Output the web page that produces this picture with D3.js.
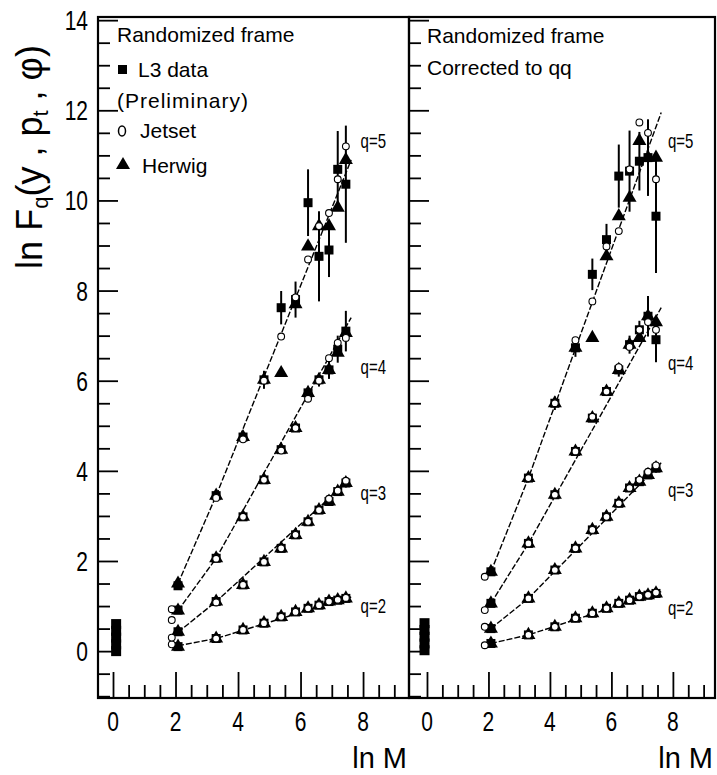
<!DOCTYPE html>
<html>
<head>
<meta charset="utf-8">
<script src="https://cdn.jsdelivr.net/npm/d3@7"></script>
<style>
  body { margin: 0; background: #fff; }
  svg text { font-family: "Liberation Sans", Arial, sans-serif; fill: #000; }
</style>
</head>
<body>
<svg id="chart" width="717" height="775"></svg>
<script>
// ln M bins, same for every q
const lnM = [2.08, 3.30, 4.16, 4.83, 5.38, 5.84, 6.24, 6.59, 6.91, 7.19, 7.45];
const jetsetLnM = [1.88, 3.30, 4.16, 4.83, 5.38, 5.84, 6.24, 6.59, 6.91, 7.19, 7.45];
const qOrders = [2, 3, 4, 5];
const xTicks = [0, 2, 4, 6, 8];
const yTicks = [0, 2, 4, 6, 8, 10, 12, 14];
const fitLnM = [2.08, 3.30, 7.62];

// left panel: randomized frame (rows q=2..5)
const leftData = [
  [0.10, 0.28, 0.47, 0.62, 0.76, 0.87, 0.95, 1.02, 1.10, 1.13, 1.17],
  [0.43, 1.10, 1.47, 1.98, 2.28, 2.58, 2.87, 3.13, 3.32, 3.54, 3.73],
  [0.91, 2.06, 2.98, 3.80, 4.47, 4.95, 5.73, 6.02, 6.24, 6.70, 7.10],
  [1.45, 3.45, 4.75, 6.02, 7.62, 7.80, 9.95, 8.76, 8.90, 10.69, 10.36]
];
const leftErr = [
  [0, 0, 0, 0, 0, 0, 0, 0, 0, 0, 0],
  [0, 0, 0, 0, 0, 0, 0, 0.05, 0.05, 0.08, 0.1],
  [0, 0, 0, 0, 0.05, 0.08, 0.12, 0.15, 0.2, 0.3, 0.45],
  [0.05, 0.1, 0.12, 0.2, 0.37, 0.4, 0.74, 1.0, 0.6, 0.85, 1.3]
];
const leftJetset = [
  [0.15, 0.28, 0.47, 0.62, 0.76, 0.87, 0.95, 1.02, 1.10, 1.14, 1.18],
  [0.30, 1.08, 1.47, 1.98, 2.28, 2.58, 2.87, 3.13, 3.38, 3.56, 3.78],
  [0.69, 2.05, 2.98, 3.80, 4.45, 4.95, 5.60, 6.00, 6.50, 6.84, 6.95],
  [0.93, 3.40, 4.70, 6.00, 6.98, 7.85, 8.69, 9.43, 9.72, 10.47, 11.20]
];
const leftHerwig = [
  [0.10, 0.28, 0.47, 0.62, 0.76, 0.87, 0.95, 1.02, 1.10, 1.13, 1.17],
  [0.43, 1.10, 1.47, 1.98, 2.28, 2.58, 2.87, 3.13, 3.32, 3.54, 3.73],
  [0.90, 2.06, 2.98, 3.80, 4.47, 4.95, 5.73, 6.02, 6.24, 6.62, 7.06],
  [1.50, 3.45, 4.75, 6.02, 6.17, 7.70, 8.98, 9.43, 9.43, 9.84, 10.90]
];
const leftFit = [
  [0.12, 0.28, 1.20],
  [0.42, 1.10, 3.84],
  [0.90, 2.06, 7.40],
  [1.50, 3.45, 10.90]
];
const leftZero = [0.0, 0.15, 0.3, 0.45, 0.6];

// right panel: randomized frame, corrected to qq
const rightData = [
  [0.17, 0.36, 0.54, 0.73, 0.84, 0.95, 1.06, 1.13, 1.21, 1.24, 1.28],
  [0.50, 1.17, 1.80, 2.28, 2.69, 2.98, 3.28, 3.62, 3.76, 3.91, 4.06],
  [1.06, 2.39, 3.47, 4.43, 5.17, 5.76, 6.24, 6.80, 7.13, 7.43, 6.91],
  [1.76, 3.84, 5.50, 6.73, 8.36, 9.13, 10.54, 10.65, 10.87, 10.95, 9.65]
];
const rightErr = [
  [0, 0, 0, 0, 0, 0, 0, 0, 0, 0, 0],
  [0, 0, 0, 0, 0, 0, 0, 0.05, 0.05, 0.08, 0.1],
  [0, 0, 0, 0, 0.05, 0.1, 0.15, 0.2, 0.2, 0.45, 0.5],
  [0.05, 0.1, 0.15, 0.2, 0.35, 0.35, 0.7, 0.9, 0.65, 0.85, 1.26]
];
const rightJetset = [
  [0.13, 0.36, 0.54, 0.73, 0.84, 0.95, 1.06, 1.13, 1.21, 1.25, 1.30],
  [0.54, 1.17, 1.80, 2.28, 2.69, 2.98, 3.28, 3.62, 3.80, 3.98, 4.12],
  [0.91, 2.39, 3.47, 4.43, 5.20, 5.76, 6.30, 6.75, 7.13, 7.30, 7.13],
  [1.65, 3.84, 5.50, 6.90, 7.76, 8.98, 9.32, 10.69, 11.73, 11.50, 10.47]
];
const rightHerwig = [
  [0.17, 0.36, 0.54, 0.73, 0.84, 0.95, 1.06, 1.13, 1.21, 1.24, 1.28],
  [0.50, 1.17, 1.80, 2.28, 2.69, 2.98, 3.28, 3.62, 3.76, 3.91, 4.06],
  [1.06, 2.39, 3.47, 4.43, 5.17, 5.76, 6.24, 6.80, 6.95, 7.43, 7.30],
  [1.76, 3.84, 5.50, 6.73, 6.95, 8.76, 9.65, 10.06, 11.32, 10.95, 10.95]
];
const rightFit = [
  [0.17, 0.36, 1.32],
  [0.50, 1.17, 4.18],
  [1.06, 2.39, 7.62],
  [1.76, 3.84, 11.95]
];
const rightZero = [0.02, 0.17, 0.32, 0.47, 0.62];

const svg = d3.select("#chart");
const y = d3.scaleLinear().domain([-1.04, 14.07]).range([698, 17]);

const panels = [
  {
    x: d3.scaleLinear().domain([-0.48, 9.47]).range([98, 409]),
    data: leftData, err: leftErr, jet: leftJetset, her: leftHerwig, fit: leftFit,
    zero: leftZero, zeroX: 0.1, labelX: 7.92, labelY: [0.98, 3.49, 6.29, 11.3],
    yLabels: true
  },
  {
    x: d3.scaleLinear().domain([-0.585, 9.37]).range([409, 715]),
    data: rightData, err: rightErr, jet: rightJetset, her: rightHerwig, fit: rightFit,
    zero: rightZero, zeroX: -0.08, labelX: 7.84, labelY: [0.93, 3.56, 6.36, 11.3],
    yLabels: false
  }
];

const tri = d3.symbol().type(d3.symbolTriangle).size(85);

panels.forEach(p => {
  const x = p.x;
  const g = svg.append("g");
  const [x0, x1] = x.range();

  // ticks
  const yMinor = d3.range(-1, 14.01, 0.5).filter(v => v % 2 !== 0);
  g.append("g").attr("transform", `translate(${x0},0)`)
    .call(d3.axisLeft(y).tickValues(yTicks).tickSize(-20).tickFormat(""));
  g.append("g").attr("transform", `translate(${x0},0)`)
    .call(d3.axisLeft(y).tickValues(yMinor).tickSize(-12).tickFormat(""));
  const xMinor = d3.range(0, 9.51, 0.5).filter(v => v % 2 !== 0 && x(v) < x1 - 2);
  g.append("g").attr("transform", `translate(0,${y.range()[0]})`)
    .call(d3.axisBottom(x).tickValues(xTicks).tickSize(-26).tickFormat(""));
  g.append("g").attr("transform", `translate(0,${y.range()[0]})`)
    .call(d3.axisBottom(x).tickValues(xMinor).tickSize(-13).tickFormat(""));
  g.selectAll(".domain").remove();
  g.selectAll(".tick line").attr("stroke", "#000").attr("stroke-width", 1.8);

  // frame
  g.append("rect")
    .attr("x", x0).attr("y", y.range()[1])
    .attr("width", x1 - x0).attr("height", y.range()[0] - y.range()[1])
    .attr("fill", "none").attr("stroke", "#000").attr("stroke-width", 2.2);

  // tick labels
  xTicks.forEach(t => {
    g.append("text").text(t)
      .attr("transform", `translate(${x(t)},731) scale(0.75,1)`)
      .attr("text-anchor", "middle").attr("font-size", 28);
  });
  if (p.yLabels) {
    yTicks.forEach(t => {
      g.append("text").text(t)
        .attr("transform", `translate(88,${y(t) + 10}) scale(0.75,1)`)
        .attr("text-anchor", "end").attr("font-size", 28);
    });
  }
  g.append("text").text("ln M")
    .attr("x", x1 - 2).attr("y", 768)
    .attr("text-anchor", "end").attr("font-size", 29);

  // fit lines
  const line = d3.line().x((d, i) => x(fitLnM[i])).y(d => y(d));
  p.fit.forEach(f => {
    g.append("path").attr("d", line(f))
      .attr("fill", "none").attr("stroke", "#000")
      .attr("stroke-width", 1.4).attr("stroke-dasharray", "6,2");
  });

  qOrders.forEach((q, qi) => {
    // error bars
    p.data[qi].forEach((v, i) => {
      const e = p.err[qi][i];
      if (e > 0) {
        g.append("line")
          .attr("x1", x(lnM[i])).attr("x2", x(lnM[i]))
          .attr("y1", y(v - e)).attr("y2", y(v + e))
          .attr("stroke", "#000").attr("stroke-width", 2);
      }
    });
    // Herwig
    g.selectAll(null).data(p.her[qi]).enter().append("path")
      .attr("d", tri)
      .attr("transform", (d, i) => `translate(${x(lnM[i])},${y(d)})`)
      .attr("fill", "#000");
    // L3 data
    g.selectAll(null).data(p.data[qi]).enter().append("rect")
      .attr("x", (d, i) => x(lnM[i]) - 4.5).attr("y", d => y(d) - 4.5)
      .attr("width", 9).attr("height", 9).attr("fill", "#000");
    // Jetset
    g.selectAll(null).data(p.jet[qi]).enter().append("circle")
      .attr("cx", (d, i) => x(jetsetLnM[i])).attr("cy", d => y(d))
      .attr("r", 3.4).attr("fill", "#fff").attr("stroke", "#000").attr("stroke-width", 1.1);

    // q label
    g.append("text").text("q=" + q)
      .attr("transform", `translate(${x(p.labelX)},${y(p.labelY[qi]) + 6}) scale(0.75,1)`)
      .attr("font-size", 20);
  });

  // ln M = 0 bin
  g.selectAll(null).data(p.zero).enter().append("rect")
    .attr("x", x(p.zeroX) - 5).attr("y", d => y(d) - 5)
    .attr("width", 10).attr("height", 10).attr("fill", "#000");
});

// legends
svg.append("text").text("Randomized frame").attr("x", 117).attr("y", 42).attr("font-size", 21);
svg.append("rect").attr("x", 118).attr("y", 65).attr("width", 9).attr("height", 9).attr("fill", "#000");
svg.append("text").text("L3 data").attr("x", 138).attr("y", 77).attr("font-size", 21);
svg.append("text").text("(Preliminary)").attr("x", 117).attr("y", 108).attr("font-size", 21)
  .attr("letter-spacing", 1);
svg.append("ellipse").attr("cx", 122).attr("cy", 131).attr("rx", 3.5).attr("ry", 5)
  .attr("fill", "#fff").attr("stroke", "#000").attr("stroke-width", 1.5);
svg.append("text").text("Jetset").attr("x", 140).attr("y", 138).attr("font-size", 21);
svg.append("path").attr("d", tri).attr("transform", "translate(123,165)").attr("fill", "#000");
svg.append("text").text("Herwig").attr("x", 142).attr("y", 173).attr("font-size", 21);

svg.append("text").text("Randomized frame").attr("x", 427).attr("y", 43).attr("font-size", 21);
svg.append("text").text("Corrected to qq").attr("x", 427).attr("y", 75).attr("font-size", 21);

// y axis title
const title = svg.append("text")
  .attr("transform", "translate(42,157) rotate(-90)")
  .attr("text-anchor", "middle").attr("font-size", 36);
title.append("tspan").text("ln F");
title.append("tspan").text("q").attr("font-size", 22).attr("dy", 6);
title.append("tspan").text("(y , p").attr("dy", -6);
title.append("tspan").text("t").attr("font-size", 22).attr("dy", 6);
title.append("tspan").text(" , φ)").attr("dy", -6);
</script>
</body>
</html>
